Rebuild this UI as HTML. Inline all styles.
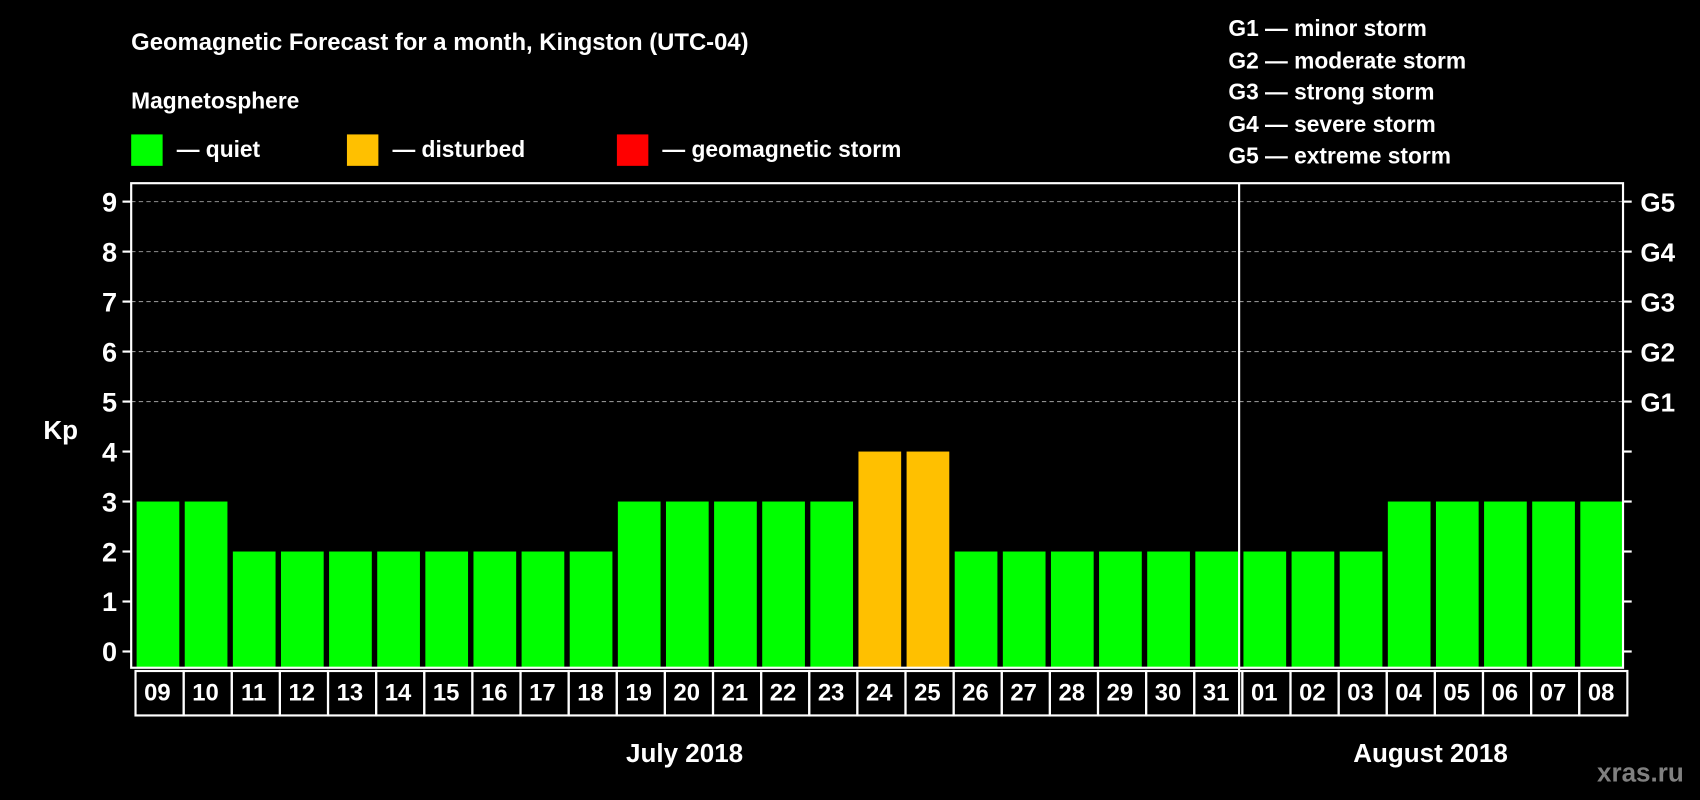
<!DOCTYPE html>
<html><head><meta charset="utf-8"><style>
html,body{margin:0;padding:0;background:#000;}
svg{display:block;font-family:"Liberation Sans",Arial,sans-serif;font-weight:bold;}
</style></head><body>
<svg id="chart" width="1700" height="800" viewBox="0 0 1568 738" preserveAspectRatio="none" xmlns="http://www.w3.org/2000/svg">
<rect width="1568" height="738" fill="#000"/>
<text x="121" y="46" fill="#fff" font-size="22">Geomagnetic Forecast for a month, Kingston (UTC-04)</text>
<text x="121" y="100" fill="#fff" font-size="21">Magnetosphere</text>
<g><rect x="121" y="124" width="29" height="29" fill="#00ff00"/><text x="163" y="145" fill="#fff" font-size="21">— quiet</text></g>
<g><rect x="320" y="124" width="29" height="29" fill="#ffc000"/><text x="362" y="145" fill="#fff" font-size="21">— disturbed</text></g>
<g><rect x="569" y="124" width="29" height="29" fill="#ff0000"/><text x="611" y="145" fill="#fff" font-size="21">— geomagnetic storm</text></g>
<g fill="#fff" font-size="21">
<text x="1133" y="33">G1 — minor storm</text>
<text x="1133" y="63">G2 — moderate storm</text>
<text x="1133" y="92">G3 — strong storm</text>
<text x="1133" y="122">G4 — severe storm</text>
<text x="1133" y="151">G5 — extreme storm</text>
</g>
<text x="40" y="405" fill="#fff" font-size="24">Kp</text>
<g id="grid"></g>
<g id="bars"></g>
<g id="axes"></g>
<text x="1473" y="721" fill="#808080" font-size="24">xras.ru</text>
</svg>
<script>
const days = ["09","10","11","12","13","14","15","16","17","18","19","20","21","22","23","24","25","26","27","28","29","30","31","01","02","03","04","05","06","07","08"];
const kpValues = [3,3,2,2,2,2,2,2,2,2,3,3,3,3,3,4,4,2,2,2,2,2,2,2,2,2,3,3,3,3,3];
const yTicks = [0,1,2,3,4,5,6,7,8,9];
const gLabels = ["G1","G2","G3","G4","G5"];
const months = [{name:"July 2018", start:0, end:23},{name:"August 2018", start:23, end:31}];

const NS="http://www.w3.org/2000/svg";
const L=121,R=1497,T=169,B=616,Y0=601,UNIT=(601-186)/9;
const step=(R-L)/days.length;
const xs=i=>L+i*step;
const ys=v=>Y0-v*UNIT;
function mk(tag,attrs,parent,text){const e=document.createElementNS(NS,tag);for(const k in attrs)e.setAttribute(k,attrs[k]);if(text!==undefined)e.textContent=text;parent.appendChild(e);return e;}
const grid=document.getElementById('grid'),bars=document.getElementById('bars'),axes=document.getElementById('axes');
function color(v){return v>=5?"#ff0000":v>=4?"#ffc000":"#00ff00";}
// gridlines for 5..9
yTicks.filter(v=>v>=5).forEach(v=>{
  const l=mk('line',{x1:L,x2:R,y1:ys(v),y2:ys(v),stroke:"#909090","stroke-width":1,"stroke-dasharray":"4,3"},grid);
  
  
});
kpValues.forEach((v,i)=>{
  const r=mk('rect',{x:xs(i)+5,y:ys(v),width:step-5,height:B-ys(v),fill:color(v)},bars);
  
  
});
// frame
const fr=mk('rect',{x:L,y:T,width:R-L,height:B-T,fill:"none",stroke:"#fff","stroke-width":2},axes);


// month separator
months.slice(1).forEach(m=>{
  const s=mk('line',{x1:xs(m.start)+1,x2:xs(m.start)+1,y1:T,y2:660,stroke:"#fff","stroke-width":2},axes);
  
  
});
yTicks.forEach(v=>{
  mk('line',{x1:L-8,x2:L,y1:ys(v),y2:ys(v),stroke:"#fff","stroke-width":2},axes);
  mk('line',{x1:R,x2:R+8,y1:ys(v),y2:ys(v),stroke:"#fff","stroke-width":2},axes);
  const t=mk('text',{x:108,y:ys(v)+9,fill:"#fff","font-size":25,"text-anchor":"end"},axes,String(v));
  
  
});
gLabels.forEach((g,i)=>{
  const t=mk('text',{x:1513,y:ys(5+i)+9,fill:"#fff","font-size":24},axes,g);
  
  
});
days.forEach((d,i)=>{
  const c=mk('rect',{x:xs(i)+4,y:619,width:step,height:41,fill:"none",stroke:"#fff","stroke-width":2},axes);
  
  
  const t=mk('text',{x:xs(i)+step/2+2,y:646,fill:"#fff","font-size":22,"text-anchor":"middle"},axes,d);
  
  
});
months.forEach(m=>{
  const t=mk('text',{x:(xs(m.start)+xs(m.end))/2,y:703,fill:"#fff","font-size":24,"text-anchor":"middle"},axes,m.name);
  
  
});
</script>
</body></html>
